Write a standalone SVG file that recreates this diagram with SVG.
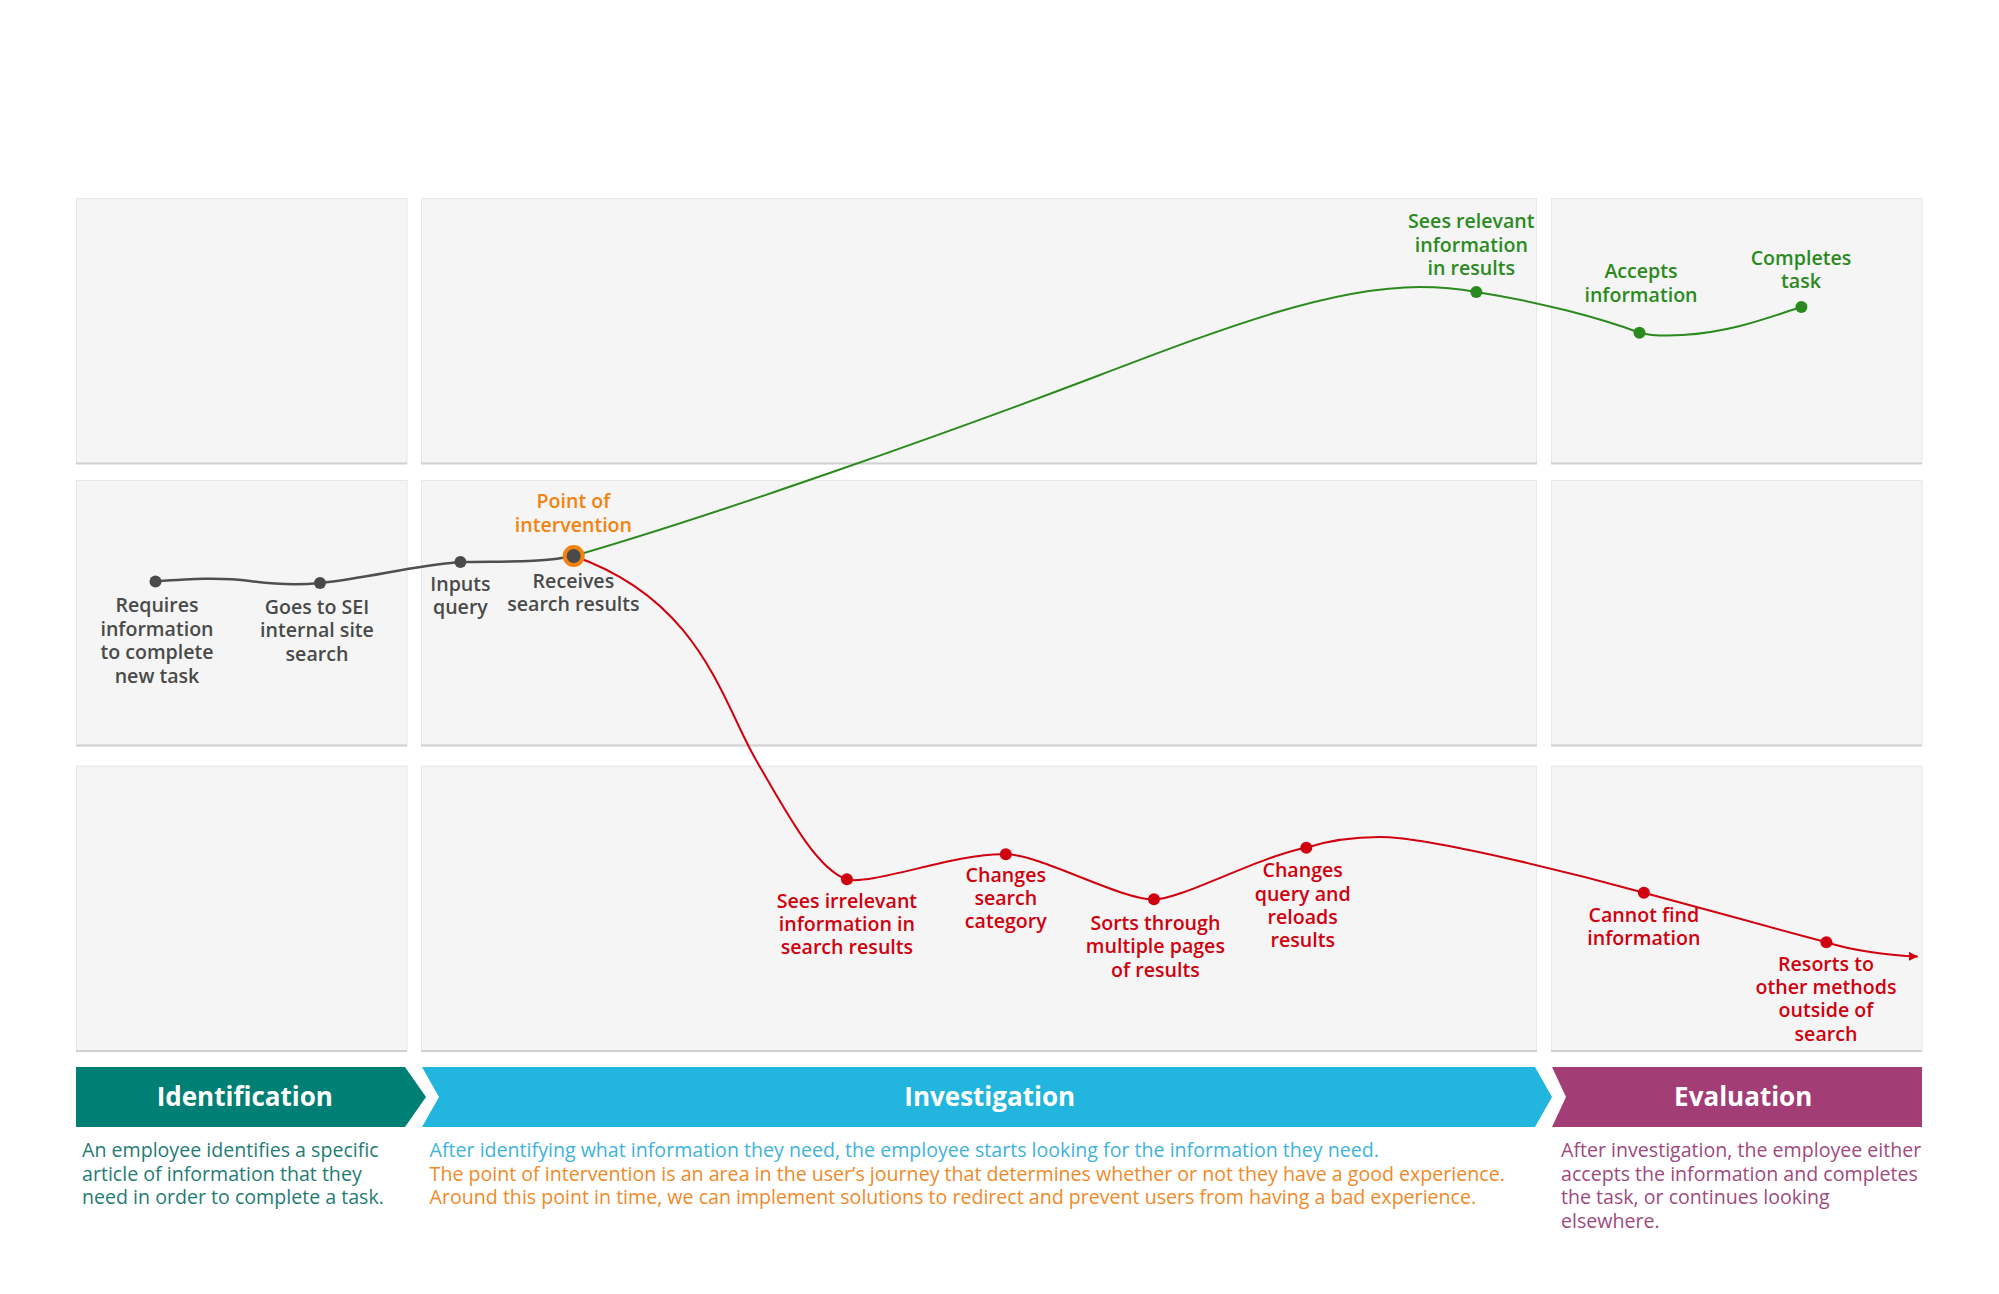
<svg xmlns="http://www.w3.org/2000/svg" width="1999" height="1294" viewBox="0 0 1999 1294">
<defs>
<style>
.panel{fill:#f4f5f4;stroke:#e6e7e6;stroke-width:1}
.pb{stroke:#cfd0cf;stroke-width:2}
.lbl{font-family:"Open Sans","DejaVu Sans",sans-serif;font-size:19.6px;font-weight:600;text-anchor:middle}
.g{fill:#4a4a4a}
.gr{fill:#2b8a1e}
.rd{fill:#d0000f}
.or{fill:#f5820f}
.desc{font-family:"Open Sans","DejaVu Sans",sans-serif;font-size:19.6px}
.phase{font-family:"Open Sans","DejaVu Sans",sans-serif;font-size:26px;font-weight:700;fill:#ffffff;text-anchor:middle}
.line{fill:none;stroke-linecap:round}
</style>
<marker id="arr" viewBox="0 0 10 10" refX="9" refY="5" markerWidth="9" markerHeight="9" markerUnits="userSpaceOnUse" orient="auto">
<path d="M0,0 L10,5 L0,10 z" fill="#d0000f"/>
</marker>
</defs>
<rect width="1999" height="1294" fill="#ffffff"/>

<g id="panels">
<rect class="panel" x="76.5" y="198.5" width="330.5" height="265"/>
<rect class="panel" x="421.5" y="198.5" width="1115" height="265"/>
<rect class="panel" x="1551.5" y="198.5" width="370.5" height="265"/>
<rect class="panel" x="76.5" y="480.5" width="330.5" height="265"/>
<rect class="panel" x="421.5" y="480.5" width="1115" height="265"/>
<rect class="panel" x="1551.5" y="480.5" width="370.5" height="265"/>
<rect class="panel" x="76.5" y="766" width="330.5" height="285"/>
<rect class="panel" x="421.5" y="766" width="1115" height="285"/>
<rect class="panel" x="1551.5" y="766" width="370.5" height="285"/>
<line class="pb" x1="76" y1="463.5" x2="407" y2="463.5"/>
<line class="pb" x1="421" y1="463.5" x2="1537" y2="463.5"/>
<line class="pb" x1="1551" y1="463.5" x2="1922" y2="463.5"/>
<line class="pb" x1="76" y1="745.5" x2="407" y2="745.5"/>
<line class="pb" x1="421" y1="745.5" x2="1537" y2="745.5"/>
<line class="pb" x1="1551" y1="745.5" x2="1922" y2="745.5"/>
<line class="pb" x1="76" y1="1051" x2="407" y2="1051"/>
<line class="pb" x1="421" y1="1051" x2="1537" y2="1051"/>
<line class="pb" x1="1551" y1="1051" x2="1922" y2="1051"/>
</g>

<g id="connectors">
<path class="line" stroke="#4f4f4f" stroke-width="2.5" d="M155.5,581.4 C190,579 220,577 250,581 C280,585 300,585 320,583 C370,578 410,566 460,562 C500,561 540,563 573.7,556"/>
<path class="line" stroke="#2b8a1e" stroke-width="2" d="M573.7,556 C723.7,512.5 950,432 1100,375 C1220,329.4 1330,287 1420,287 C1445,287 1460,289 1476.3,292 C1540,302 1600,318 1639.5,332.7 C1660,338 1700,336 1740,326 C1770,318 1785,312 1801.4,307"/>
<path class="line" stroke="#d0000f" stroke-width="2" marker-end="url(#arr)" d="M573.7,556 C700,600 721.4,700 756,760 C786,812 817,870 846.9,879.3 C870,886 960,852 1005.8,854.3 C1040,854 1120,900 1154,899.3 C1180,900 1260,856 1306.3,847.7 C1330,840 1355,837 1380,837 C1430,837 1580,875 1643.9,892.7 C1690,905 1780,930 1826.4,942.3 C1850,950 1890,956 1917,956.5"/>
</g>

<g id="node-requires">
<circle class="g" cx="155.5" cy="581.4" r="6"/>
<text class="lbl g" x="157" y="612">Requires</text>
<text class="lbl g" x="157" y="635.5">information</text>
<text class="lbl g" x="157" y="659">to complete</text>
<text class="lbl g" x="157" y="682.5">new task</text>
</g>
<g id="node-goes">
<circle class="g" cx="320" cy="583" r="6"/>
<text class="lbl g" x="317" y="613.5">Goes to SEI</text>
<text class="lbl g" x="317" y="637">internal site</text>
<text class="lbl g" x="317" y="660.5">search</text>
</g>
<g id="node-inputs">
<circle class="g" cx="460.4" cy="562" r="6"/>
<text class="lbl g" x="460.4" y="590.5">Inputs</text>
<text class="lbl g" x="460.4" y="614">query</text>
</g>
<g id="node-receives">
<circle cx="573.7" cy="556" r="9" fill="#4a4a4a" stroke="#f5820f" stroke-width="4"/>
<text class="lbl g" x="573.4" y="587.7">Receives</text>
<text class="lbl g" x="573.4" y="611">search results</text>
<text class="lbl or" x="573.4" y="508">Point of</text>
<text class="lbl or" x="573.4" y="531.5">intervention</text>
</g>

<g id="node-sees-relevant">
<circle class="gr" cx="1476.3" cy="292" r="6"/>
<text class="lbl gr" x="1471.3" y="228">Sees relevant</text>
<text class="lbl gr" x="1471.3" y="251.5">information</text>
<text class="lbl gr" x="1471.3" y="275">in results</text>
</g>
<g id="node-accepts">
<circle class="gr" cx="1639.5" cy="332.7" r="6"/>
<text class="lbl gr" x="1641" y="278.4">Accepts</text>
<text class="lbl gr" x="1641" y="302">information</text>
</g>
<g id="node-completes">
<circle class="gr" cx="1801.4" cy="307" r="6"/>
<text class="lbl gr" x="1801" y="265">Completes</text>
<text class="lbl gr" x="1801" y="288.4">task</text>
</g>

<g id="node-sees-irrelevant">
<circle class="rd" cx="846.9" cy="879.3" r="6"/>
<text class="lbl rd" x="846.9" y="907.7">Sees irrelevant</text>
<text class="lbl rd" x="846.9" y="931">information in</text>
<text class="lbl rd" x="846.9" y="954.3">search results</text>
</g>
<g id="node-changes-category">
<circle class="rd" cx="1005.8" cy="854.3" r="6"/>
<text class="lbl rd" x="1005.8" y="881.7">Changes</text>
<text class="lbl rd" x="1005.8" y="905">search</text>
<text class="lbl rd" x="1005.8" y="928.3">category</text>
</g>
<g id="node-sorts">
<circle class="rd" cx="1154" cy="899.3" r="6"/>
<text class="lbl rd" x="1155.4" y="930">Sorts through</text>
<text class="lbl rd" x="1155.4" y="953.3">multiple pages</text>
<text class="lbl rd" x="1155.4" y="976.7">of results</text>
</g>
<g id="node-changes-query">
<circle class="rd" cx="1306.3" cy="847.7" r="6"/>
<text class="lbl rd" x="1302.7" y="877.3">Changes</text>
<text class="lbl rd" x="1302.7" y="900.7">query and</text>
<text class="lbl rd" x="1302.7" y="924">reloads</text>
<text class="lbl rd" x="1302.7" y="947.3">results</text>
</g>
<g id="node-cannot-find">
<circle class="rd" cx="1643.9" cy="892.7" r="6"/>
<text class="lbl rd" x="1643.9" y="921.7">Cannot find</text>
<text class="lbl rd" x="1643.9" y="945">information</text>
</g>
<g id="node-resorts">
<circle class="rd" cx="1826.4" cy="942.3" r="6"/>
<text class="lbl rd" x="1826" y="970.7">Resorts to</text>
<text class="lbl rd" x="1826" y="994">other methods</text>
<text class="lbl rd" x="1826" y="1017.3">outside of</text>
<text class="lbl rd" x="1826" y="1040.7">search</text>
</g>

<g id="phase-identification">
<polygon points="76,1067 405,1067 426,1097 405,1127 76,1127" fill="#007f75"/>
<text class="phase" x="244.8" y="1106">Identification</text>
<text class="desc" fill="#1f7c74" x="82" y="1157">An employee identifies a specific</text>
<text class="desc" fill="#1f7c74" x="82" y="1180.5">article of information that they</text>
<text class="desc" fill="#1f7c74" x="82" y="1204">need in order to complete a task.</text>
</g>
<g id="phase-investigation">
<polygon points="422,1067 1535,1067 1552,1097 1535,1127 422,1127 439,1097" fill="#22b5de"/>
<text class="phase" x="989.7" y="1106">Investigation</text>
<text class="desc" fill="#40b3dc" x="429.6" y="1157">After identifying what information they need, the employee starts looking for the information they need.</text>
<text class="desc" fill="#f08a28" x="429.6" y="1180.5">The point of intervention is an area in the user’s journey that determines whether or not they have a good experience.</text>
<text class="desc" fill="#f08a28" x="429.6" y="1204">Around this point in time, we can implement solutions to redirect and prevent users from having a bad experience.</text>
</g>
<g id="phase-evaluation">
<polygon points="1552,1067 1922,1067 1922,1127 1552,1127 1566,1097" fill="#a33d75"/>
<text class="phase" x="1743.2" y="1106">Evaluation</text>
<text class="desc" fill="#a0497d" x="1561" y="1157">After investigation, the employee either</text>
<text class="desc" fill="#a0497d" x="1561" y="1180.5">accepts the information and completes</text>
<text class="desc" fill="#a0497d" x="1561" y="1204">the task, or continues looking</text>
<text class="desc" fill="#a0497d" x="1561" y="1227.5">elsewhere.</text>
</g>
</svg>
